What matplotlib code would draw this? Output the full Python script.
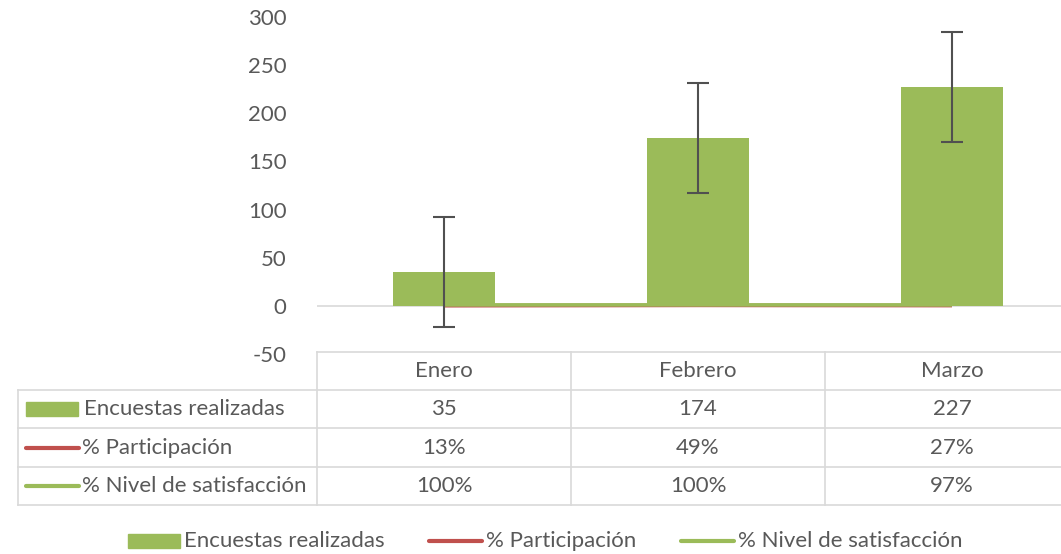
import matplotlib.pyplot as plt
from matplotlib.lines import Line2D
from matplotlib.patches import Rectangle

meses = ['Enero', 'Febrero', 'Marzo']
encuestas = [35, 174, 227]
participacion = [0.13, 0.49, 0.27]
satisfaccion = [1.00, 1.00, 0.97]
error_encuestas = [57, 57, 57]
series = ['Encuestas realizadas', '% Participación', '% Nivel de satisfacción']

verde = '#9BBB59'
rojo = '#C0504D'
gris_txt = '#595959'
gris_borde = '#D9D9D9'

plt.rcParams['font.family'] = ['Lato', 'DejaVu Sans']
plt.rcParams['axes.unicode_minus'] = False
fs = 16

W, H = 1061, 554
fig = plt.figure(figsize=(W / 100, H / 100), dpi=100)

def fx(px):
    return px / W

def fy(py):
    return 1 - py / H

# plot area: categories are 254 px wide starting at x=317
ax = fig.add_axes([fx(317), fy(354), fx(3 * 254), fy(17) - fy(354)])
x = list(range(len(meses)))
ax.plot(x, participacion, color=rojo, lw=2.6, solid_capstyle='butt', zorder=2)
ax.plot(x, satisfaccion, color=verde, lw=2.6, solid_capstyle='butt', zorder=3)
ax.bar(x, encuestas, width=0.4, color=verde, zorder=4)
ax.errorbar(x, encuestas, yerr=error_encuestas, fmt='none', ecolor='#505050',
            elinewidth=1.5, capsize=8, capthick=1.5, zorder=5)
ax.axhline(0, color=gris_borde, lw=1.2, zorder=1)
ax.set_xlim(-0.5, 2.5)
ax.set_ylim(-50, 300)
ax.set_yticks(range(-50, 301, 50))
ax.set_xticks([])
ax.tick_params(axis='y', length=0, pad=22, labelsize=fs, labelcolor=gris_txt)
for s in ax.spines.values():
    s.set_visible(False)

# data table under the plot
col_x = [317, 571, 825, 1079]
row_y = [352, 390, 428, 467, 505]
left = 18
bl = dict(color=gris_borde, lw=1.2, transform=fig.transFigure, clip_on=False)
fig.add_artist(Line2D([fx(317), fx(1079)], [fy(352), fy(352)], **bl))
for yy in row_y[1:]:
    fig.add_artist(Line2D([fx(left), fx(1079)], [fy(yy), fy(yy)], **bl))
fig.add_artist(Line2D([fx(left), fx(left)], [fy(390), fy(505)], **bl))
for xx in col_x[:3]:
    fig.add_artist(Line2D([fx(xx), fx(xx)], [fy(352), fy(505)], **bl))

for i, m in enumerate(meses):
    cx = (col_x[i] + col_x[i + 1]) / 2
    fig.text(fx(cx), fy(371), m, ha='center', va='center', fontsize=fs, color=gris_txt)
    fig.text(fx(cx), fy(409), str(encuestas[i]), ha='center', va='center', fontsize=fs, color=gris_txt)
    fig.text(fx(cx), fy(448), f'{participacion[i]:.0%}', ha='center', va='center', fontsize=fs, color=gris_txt)
    fig.text(fx(cx), fy(486), f'{satisfaccion[i]:.0%}', ha='center', va='center', fontsize=fs, color=gris_txt)

# row headers with their keys
fig.add_artist(Rectangle((fx(26), fy(416)), fx(52), fy(402) - fy(416), color=verde,
                         transform=fig.transFigure))
fig.text(fx(84), fy(409), series[0], ha='left', va='center', fontsize=fs, color=gris_txt)
fig.add_artist(Line2D([fx(26), fx(79)], [fy(448), fy(448)], color=rojo, lw=3,
                      solid_capstyle='round', transform=fig.transFigure))
fig.text(fx(82), fy(448), series[1], ha='left', va='center', fontsize=fs, color=gris_txt)
fig.add_artist(Line2D([fx(26), fx(79)], [fy(486), fy(486)], color=verde, lw=3,
                      solid_capstyle='round', transform=fig.transFigure))
fig.text(fx(82), fy(486), series[2], ha='left', va='center', fontsize=fs, color=gris_txt)

# legend at the bottom
ly = 541
fig.add_artist(Rectangle((fx(128), fy(548)), fx(52), fy(534) - fy(548), color=verde,
                         transform=fig.transFigure))
fig.text(fx(184), fy(ly), series[0], ha='left', va='center', fontsize=fs, color=gris_txt)
fig.add_artist(Line2D([fx(429), fx(482)], [fy(ly), fy(ly)], color=rojo, lw=3,
                      solid_capstyle='round', transform=fig.transFigure))
fig.text(fx(486), fy(ly), series[1], ha='left', va='center', fontsize=fs, color=gris_txt)
fig.add_artist(Line2D([fx(681), fx(734)], [fy(ly), fy(ly)], color=verde, lw=3,
                      solid_capstyle='round', transform=fig.transFigure))
fig.text(fx(738), fy(ly), series[2], ha='left', va='center', fontsize=fs, color=gris_txt)

fig.savefig('out.png', dpi=100)
